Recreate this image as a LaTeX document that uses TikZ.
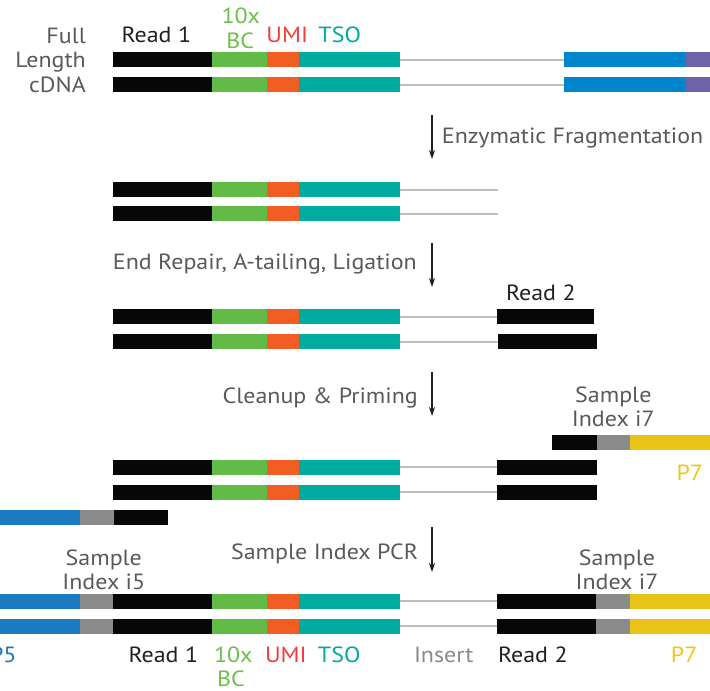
\documentclass[tikz,border=0pt]{standalone}
\usepackage{fontspec}
\setmainfont[FakeStretch=1.09]{PT Sans}
\usetikzlibrary{arrows.meta}
\definecolor{cblk}{HTML}{060709}
\definecolor{cgreen}{HTML}{62BB46}
\definecolor{corange}{HTML}{F15D22}
\definecolor{cteal}{HTML}{00AB9F}
\definecolor{cline}{HTML}{BCBEC0}
\definecolor{cblue}{HTML}{0085CA}
\definecolor{cpurple}{HTML}{6E62A9}
\definecolor{cpfive}{HTML}{1B7BC2}
\definecolor{cidx}{HTML}{898B8C}
\definecolor{cyellow}{HTML}{E9C318}
\definecolor{tgray}{HTML}{58595B}
\definecolor{tblack}{HTML}{231F20}
\definecolor{tgreen}{HTML}{6CBF4A}
\definecolor{tred}{HTML}{EF3E3A}
\definecolor{tteal}{HTML}{00A99D}
\definecolor{tinsert}{HTML}{8A8A8D}
\definecolor{tpfive}{HTML}{1B75BC}
\definecolor{tpseven}{HTML}{F0C419}
\newcommand\myseg[4]{\fill[#4] (#1,#3) rectangle (#2,#3+15);}
\newcommand\mycore[1]{%
  \myseg{113}{212}{#1}{cblk}\myseg{212}{267}{#1}{cgreen}%
  \myseg{267}{299}{#1}{corange}\myseg{299}{400}{#1}{cteal}}
\newcommand\myins[2]{\draw[cline,line width=2] (400,#1+7.5) -- (#2,#1+7.5);}
\begin{document}
\begin{tikzpicture}[x=1pt,y=-1pt,
  lbl/.style={inner sep=0pt,anchor=base,font=\fontsize{22}{24}\selectfont},
  arr/.style={draw=tblack,line width=1.3,-{Stealth[length=9,width=6]}}]
\useasboundingbox (0,0) rectangle (710,691);
% ---- row 1: full length cDNA
\foreach \y in {52,77}{\mycore{\y}\myins{\y}{564}\myseg{564}{685}{\y}{cblue}\myseg{685}{710}{\y}{cpurple}}
\node[lbl,anchor=base east,text=tgray] (full) at (86,43.3) {Full};
\node[lbl,anchor=base east,text=tgray] (length) at (86,67.8) {Length};
\node[lbl,anchor=base east,text=tgray] (cdna) at (86,92) {cDNA};
\node[lbl,text=tblack] (r1top) at (156.3,42.7) {Read 1};
\node[lbl,text=tgreen] (tenxtop) at (240.8,23.3) {10x};
\node[lbl,text=tgreen] (bctop) at (240.3,48.3) {BC};
\node[lbl,text=tred] (umitop) at (287.2,42.7) {UMI};
\node[lbl,text=tteal] (tsotop) at (339.7,42.7) {TSO};
% arrow 1
\coordinate (a1s) at (432,115); \coordinate (a1e) at (432,159);
\draw[arr] (a1s) -- (a1e);
\node[lbl,anchor=base west,text=tgray] (enz) at (441.7,143.3) {Enzymatic Fragmentation};
% ---- row 3: fragments
\foreach \y in {182,206}{\mycore{\y}\myins{\y}{498}}
% arrow 2
\coordinate (a2s) at (432,243); \coordinate (a2e) at (432,287);
\draw[arr] (a2s) -- (a2e);
\node[lbl,anchor=base east,text=tgray] (erp) at (417,269) {End Repair, A-tailing, Ligation};
% ---- row 4: ligation
\mycore{309}\myins{309}{497}\myseg{497}{594}{309}{cblk}
\mycore{334}\myins{334}{498}\myseg{498}{597}{334}{cblk}
\node[lbl,text=tblack] (r2a) at (540.8,300.5) {Read 2};
% arrow 3
\coordinate (a3s) at (432,372); \coordinate (a3e) at (432,416);
\draw[arr] (a3s) -- (a3e);
\node[lbl,anchor=base east,text=tgray] (clean) at (418,403.3) {Cleanup \& Priming};
% ---- row 5: priming
\myseg{552}{597}{435}{cblk}\myseg{597}{629.5}{435}{cidx}\myseg{629.5}{710}{435}{cyellow}
\foreach \y in {459.5,484.5}{\mycore{\y}\myins{\y}{497}\myseg{497}{596.5}{\y}{cblk}}
\myseg{0}{80}{509.5}{cpfive}\myseg{80}{114}{509.5}{cidx}\myseg{114}{168}{509.5}{cblk}
\node[lbl,text=tgray] (samp7a) at (613.3,402.7) {Sample};
\node[lbl,text=tgray] (idx7a) at (613.3,426.7) {Index i7};
\node[lbl,text=tpseven] (p7a) at (689.8,480) {P7};
% arrow 4
\coordinate (a4s) at (432,527); \coordinate (a4e) at (432,572);
\draw[arr] (a4s) -- (a4e);
\node[lbl,anchor=base east,text=tgray] (pcr) at (418.3,559.3) {Sample Index PCR};
% ---- row 6: final library
\foreach \y in {593.5,618.5}{%
  \myseg{0}{80}{\y}{cpfive}\myseg{80}{114}{\y}{cidx}%
  \mycore{\y}\myins{\y}{497}%
  \myseg{497}{596}{\y}{cblk}\myseg{596}{629.5}{\y}{cidx}\myseg{629.5}{710}{\y}{cyellow}}
\node[lbl,text=tgray] (samp5) at (103.8,565) {Sample};
\node[lbl,text=tgray] (idx5) at (103.8,589.3) {Index i5};
\node[lbl,text=tgray] (samp7b) at (617,565) {Sample};
\node[lbl,text=tgray] (idx7b) at (617,589.3) {Index i7};
% bottom labels
\node[lbl,anchor=base east,text=tpfive] (p5) at (16.7,662.3) {P5};
\node[lbl,text=tblack] (r1b) at (163.3,662.3) {Read 1};
\node[lbl,text=tgreen] (tenxb) at (233.3,662.3) {10x};
\node[lbl,text=tgreen] (bcb) at (231,686.7) {BC};
\node[lbl,text=tred] (umib) at (285.8,662.3) {UMI};
\node[lbl,text=tteal] (tsob) at (339.2,662.3) {TSO};
\node[lbl,text=tinsert] (insert) at (443.7,662.3) {Insert};
\node[lbl,text=tblack] (r2b) at (532.8,662.3) {Read 2};
\node[lbl,text=tpseven] (p7b) at (684.2,662.3) {P7};
\end{tikzpicture}
\end{document}
